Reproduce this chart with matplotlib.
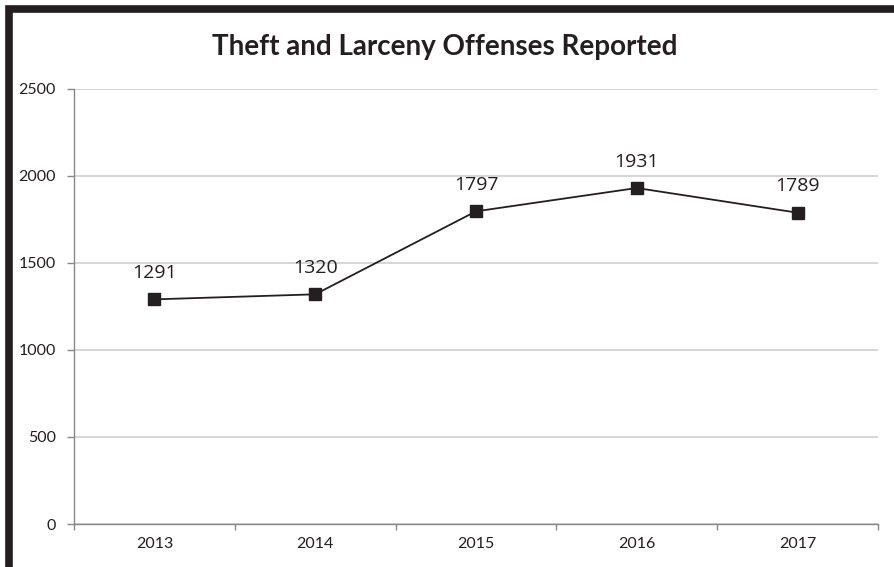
import matplotlib.pyplot as plt
from matplotlib.patches import Rectangle

years = ['2013', '2014', '2015', '2016', '2017']
offenses = [1291, 1320, 1797, 1931, 1789]
y_ticks = [0, 500, 1000, 1500, 2000, 2500]

fig = plt.figure(figsize=(8.95, 5.67), dpi=100)

# thick dark frame, only left and top show in the crop
fig.patches.append(Rectangle((9 / 895, -0.05), 1.2, 1 - 9 / 567 + 0.05,
                             transform=fig.transFigure, fill=False,
                             edgecolor='#231f20', linewidth=5.5))

ax = fig.add_axes([74 / 895, 1 - 524 / 567, (878 - 74) / 895, (524 - 89) / 567])

x = list(range(len(years)))
ax.plot(x, offenses, color='#231f20', linewidth=1.3, marker='s',
        markersize=9, markerfacecolor='#231f20', markeredgecolor='#231f20')

for xi, v in zip(x, offenses):
    ax.annotate(str(v), (xi, v), xytext=(0, 12.5), textcoords='offset points',
                ha='center', va='bottom', fontsize=14, family='Open Sans',
                color='#231f20')

ax.set_xlim(-0.5, len(years) - 0.5)
ax.set_ylim(0, 2500)
ax.set_yticks(y_ticks)
ax.set_yticklabels([str(t) for t in y_ticks], family='Lato', fontsize=11.5,
                   color='#231f20')
ax.set_xticks([i - 0.5 for i in range(len(years) + 1)])
ax.set_xticklabels([])
ax.set_xticks(x, minor=True)
ax.set_xticklabels(years, minor=True, family='Lato', fontsize=11.5,
                   color='#231f20')
ax.tick_params(axis='x', which='major', length=4, direction='out',
               color='#888888', width=1)
ax.tick_params(axis='x', which='minor', length=0, pad=9)
ax.tick_params(axis='y', length=5, color='#888888', width=1, pad=8)

ax.grid(axis='y', color='#d0d0d0', linewidth=1.2)
ax.set_axisbelow(True)
for s in ['top', 'right']:
    ax.spines[s].set_visible(False)
for s in ['left', 'bottom']:
    ax.spines[s].set_color('#888888')
    ax.spines[s].set_linewidth(1)

fig.text(445 / 895, 1 - 47 / 567, 'Theft and Larceny Offenses Reported',
         ha='center', va='center', fontsize=20, fontweight='bold',
         family='Lato', color='#231f20')

fig.savefig('out.png', dpi=100)
